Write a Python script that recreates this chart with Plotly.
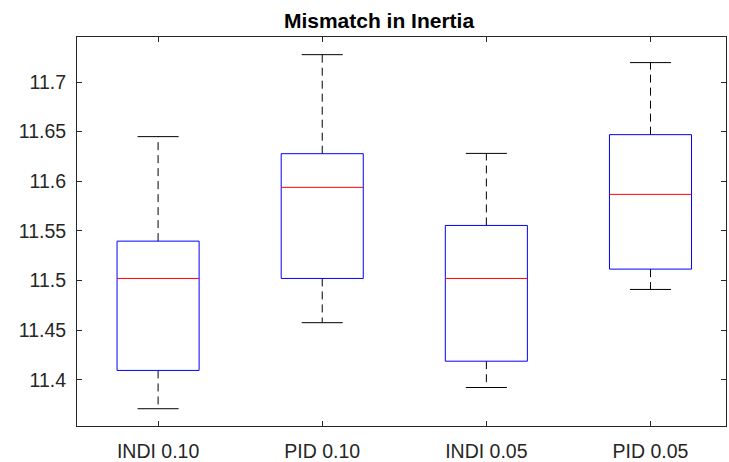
import plotly.graph_objects as go

categories = ["INDI 0.10", "PID 0.10", "INDI 0.05", "PID 0.05"]
lower_whisker = [11.3708, 11.4575, 11.3922, 11.4910]
q1 = [11.4094, 11.5021, 11.4187, 11.5115]
median = [11.5021, 11.5939, 11.5021, 11.5868]
q3 = [11.5397, 11.6278, 11.5555, 11.6470]
upper_whisker = [11.6450, 11.7276, 11.6281, 11.7196]

ytick_vals = [11.4, 11.45, 11.5, 11.55, 11.6, 11.65, 11.7]
ytick_text = ["11.4", "11.45", "11.5", "11.55", "11.6", "11.65", "11.7"]

BOX_HALF = 0.25
CAP_HALF = 0.125
FONT = "Liberation Sans, Arial, Helvetica, sans-serif"
AXC = "#262626"

pos = list(range(1, len(categories) + 1))
fig = go.Figure()

# dashed whiskers and solid caps
wx, wy, cx, cy = [], [], [], []
for i, p in enumerate(pos):
    wx += [p, p, None, p, p, None]
    wy += [q3[i], upper_whisker[i], None, q1[i], lower_whisker[i], None]
    cx += [p - CAP_HALF, p + CAP_HALF, None, p - CAP_HALF, p + CAP_HALF, None]
    cy += [upper_whisker[i], upper_whisker[i], None, lower_whisker[i], lower_whisker[i], None]
fig.add_trace(go.Scatter(x=wx, y=wy, mode="lines", line=dict(color="black", width=1, dash="8px,5px"),
                         hoverinfo="skip", showlegend=False))
fig.add_trace(go.Scatter(x=cx, y=cy, mode="lines", line=dict(color="black", width=1),
                         hoverinfo="skip", showlegend=False))

# box outlines (q1..q3)
bx, by = [], []
for i, p in enumerate(pos):
    bx += [p - BOX_HALF, p + BOX_HALF, p + BOX_HALF, p - BOX_HALF, p - BOX_HALF, None]
    by += [q1[i], q1[i], q3[i], q3[i], q1[i], None]
fig.add_trace(go.Scatter(x=bx, y=by, mode="lines", line=dict(color="blue", width=1),
                         hoverinfo="skip", showlegend=False))

# red median lines
mx, my = [], []
for i, p in enumerate(pos):
    mx += [p - BOX_HALF, p + BOX_HALF, None]
    my += [median[i], median[i], None]
fig.add_trace(go.Scatter(x=mx, y=my, mode="lines", line=dict(color="red", width=1),
                         hoverinfo="skip", showlegend=False))

fig.update_layout(
    width=729, height=462,
    margin=dict(l=77, r=3, t=37, b=36),
    paper_bgcolor="white", plot_bgcolor="white",
    title=dict(text="<b>Mismatch in Inertia</b>", x=379 / 729, xref="container", xanchor="center",
               y=1 - 21 / 462, yref="container", yanchor="middle",
               font=dict(family=FONT, size=21, color="black")),
    font=dict(family=FONT, size=19.5, color=AXC),
)
fig.update_xaxes(range=[0.506, 4.46], tickvals=pos, ticktext=categories,
                 showline=True, linecolor=AXC, linewidth=1, mirror="ticks",
                 ticks="inside", ticklen=5, tickcolor=AXC, showgrid=False, zeroline=False,
                 ticklabelstandoff=8, automargin=False,
                 tickfont=dict(family=FONT, size=19.5, color=AXC))
fig.update_yaxes(range=[11.3534, 11.7454], tickvals=ytick_vals, ticktext=ytick_text,
                 showline=True, linecolor=AXC, linewidth=1, mirror="ticks",
                 ticks="inside", ticklen=5, tickcolor=AXC, showgrid=False, zeroline=False,
                 ticklabelstandoff=6, automargin=False,
                 tickfont=dict(family=FONT, size=19.5, color=AXC))

fig.write_html("out.html", config={"displayModeBar": False},
               post_script="document.body.style.margin='0';document.body.style.overflow='hidden';")
